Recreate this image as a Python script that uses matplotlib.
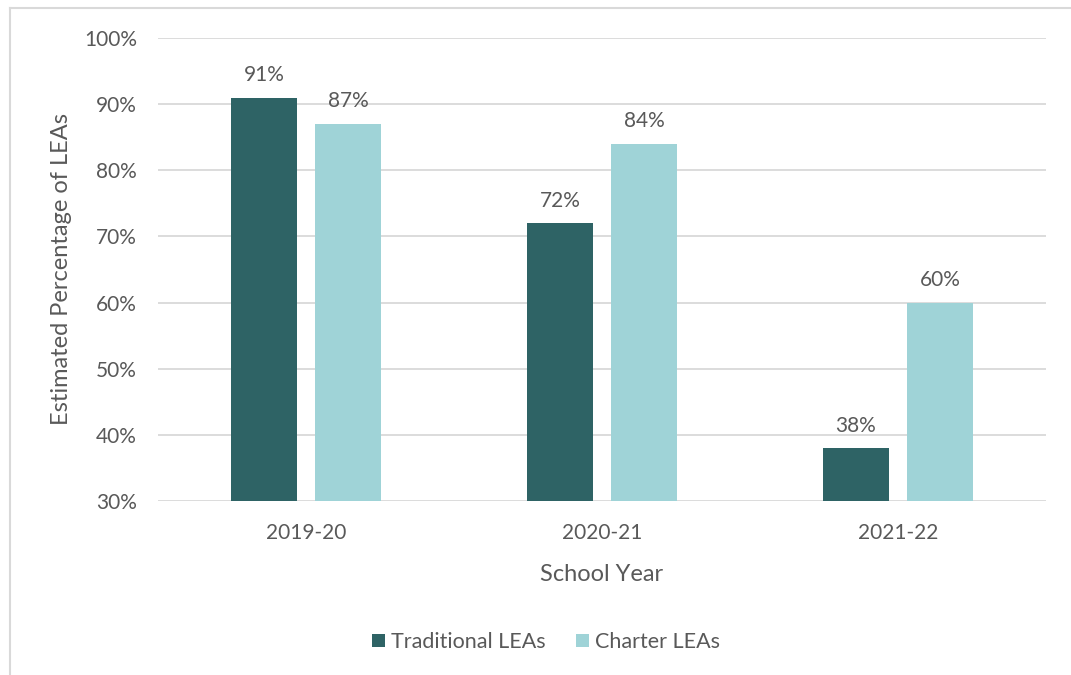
import matplotlib.pyplot as plt
from matplotlib.lines import Line2D
import numpy as np

plt.rcParams['font.family'] = ['Lato', 'DejaVu Sans']

years = ["2019-20", "2020-21", "2021-22"]
traditional = [91, 72, 38]
charter = [87, 84, 60]
series_names = ["Traditional LEAs", "Charter LEAs"]

dark = "#2E6365"
light = "#9FD3D7"
text_c = "#595959"
grid_c = "#D9D9D9"

fig = plt.figure(figsize=(10.71, 6.75), dpi=100)
ax = fig.add_axes([0.1475, 0.2578, 0.8292, 0.6859])

x = np.arange(len(years))
w = 0.223
off = 0.142
b1 = ax.bar(x - off, traditional, w, color=dark, label=series_names[0], zorder=3)
b2 = ax.bar(x + off, charter, w, color=light, label=series_names[1], zorder=3)

for bars, vals in ((b1, traditional), (b2, charter)):
    for b, v in zip(bars, vals):
        ax.annotate(f"{v}%", (b.get_x() + b.get_width() / 2, v),
                    xytext=(0, 9), textcoords="offset points",
                    ha="center", va="bottom", fontsize=15, color=text_c)

ax.set_xlim(-0.5, 2.5)
ax.set_ylim(30, 100)
ax.set_yticks(range(30, 101, 10))
ax.set_yticklabels([f"{t}%" for t in range(30, 101, 10)])
ax.set_xticks(x)
ax.set_xticklabels(years)
ax.tick_params(length=0, labelsize=15, colors=text_c)
ax.tick_params(axis='y', pad=15)
ax.tick_params(axis='x', pad=16)
ax.grid(axis='y', color=grid_c, lw=1.3, zorder=0)
for s in ax.spines.values():
    s.set_visible(False)

ax.set_xlabel("School Year", fontsize=17, color=text_c, labelpad=15)
ax.set_ylabel("Estimated Percentage of LEAs", fontsize=17, color=text_c, labelpad=9)

fig.legend(loc="center", bbox_to_anchor=(0.51, 0.049), ncol=2, frameon=False,
           fontsize=15.5, labelcolor=text_c, handlelength=0.6, handleheight=0.6,
           handletextpad=0.3, columnspacing=1.4)

# chart border (top and left edges visible)
fig.add_artist(Line2D([10 / 1071, 1.0], [1 - 8 / 675, 1 - 8 / 675], color=grid_c, lw=1.5))
fig.add_artist(Line2D([10 / 1071, 10 / 1071], [1 - 8 / 675, 0.0], color=grid_c, lw=1.5))

fig.savefig("out.png", dpi=100, facecolor="white")
